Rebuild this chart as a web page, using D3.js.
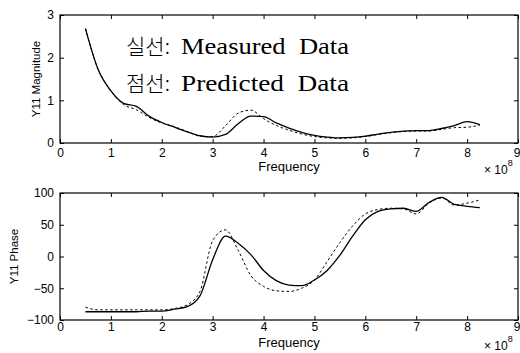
<!DOCTYPE html>
<html lang="en">
<head>
    <meta charset="utf-8">
    <title>Y11 Magnitude / Phase</title>
    <script src="https://cdnjs.cloudflare.com/ajax/libs/d3/7.8.5/d3.min.js"></script>
    <style>
        body { margin: 0; background: #fff; }
        svg { display: block; }
        .tick text { font-family: "Liberation Sans", Arial, sans-serif; font-size: 12px; fill: #000; }
        .tick line { stroke: #000; }
        .lbl { font-family: "Liberation Sans", Arial, sans-serif; font-size: 12px; fill: #000; }
        .legend { font-family: "Liberation Serif", "Noto Sans CJK KR", serif; font-size: 24px; fill: #000; }
    </style>
</head>
<body>
<div id="viz"></div>
<script>
    // frequency in units of 1e8 Hz
    var freq = [0.5, 0.75, 1.0, 1.25, 1.5, 1.75, 2.0, 2.25, 2.5, 2.75, 3.0, 3.25, 3.5, 3.75, 4.0, 4.25,
                4.5, 4.75, 5.0, 5.25, 5.5, 5.75, 6.0, 6.25, 6.5, 6.75, 7.0, 7.25, 7.5, 7.75, 8.0, 8.25];

    var magMeasured = [2.68, 1.72, 1.22, 0.93, 0.86, 0.63, 0.48, 0.37, 0.26, 0.17, 0.14, 0.2, 0.45, 0.63, 0.62, 0.47,
                       0.35, 0.25, 0.18, 0.14, 0.12, 0.13, 0.16, 0.21, 0.25, 0.28, 0.29, 0.29, 0.34, 0.41, 0.5, 0.43];
    var magPredicted = [2.68, 1.72, 1.22, 0.9, 0.78, 0.6, 0.47, 0.38, 0.27, 0.16, 0.15, 0.4, 0.7, 0.77, 0.57, 0.41,
                        0.3, 0.21, 0.15, 0.12, 0.11, 0.12, 0.15, 0.2, 0.24, 0.27, 0.28, 0.28, 0.32, 0.36, 0.37, 0.42];

    var phaseMeasured = [-87, -87, -87, -87, -87, -86, -86, -83, -79, -62, -5, 32, 21, 3, -22, -38,
                         -45, -46, -37, -22, 2, 32, 58, 71, 75, 76, 71, 85, 93, 82, 79, 77];
    var phasePredicted = [-80, -84, -84, -84, -84, -84, -84, -82, -76, -55, 25, 42, 10, -30, -47, -54,
                          -55, -50, -37, -8, 22, 48, 67, 74, 76, 75, 67, 84, 92, 81, 84, 89];

    var xTicks = [0, 1, 2, 3, 4, 5, 6, 7, 8, 9];
    var magTicks = [0, 1, 2, 3];
    var phaseTicks = [-100, -50, 0, 50, 100];

    var legendLines = [["실선:", "Measured  Data"], ["점선:", "Predicted  Data"]];

    var svg = d3.select("#viz").append("svg")
        .attr("width", 520)
        .attr("height", 353);

    var x = d3.scaleLinear().domain([0, 9]).range([60, 518]);

    function drawPanel(cfg) {
        var y = d3.scaleLinear().domain(cfg.domain).range([cfg.bottom, cfg.top]);
        var g = svg.append("g");

        g.append("g")
            .attr("transform", "translate(0," + cfg.bottom + ")")
            .call(d3.axisBottom(x).tickValues(xTicks).tickSize(-4).tickSizeOuter(0).tickPadding(cfg.xPad).tickFormat(d3.format("d")))
            .call(a => a.select(".domain").remove())
            .call(a => a.selectAll(".tick text").filter(d => d === 9).attr("text-anchor", "end").attr("x", 2));
        g.append("g")
            .attr("transform", "translate(0," + cfg.top + ")")
            .call(d3.axisTop(x).tickValues(xTicks).tickSize(-4).tickSizeOuter(0).tickFormat(""))
            .call(a => a.select(".domain").remove());
        g.append("g")
            .attr("transform", "translate(60,0)")
            .call(d3.axisLeft(y).tickValues(cfg.ticks).tickSize(-4).tickSizeOuter(0).tickPadding(6).tickFormat(d3.format("d")))
            .call(a => a.select(".domain").remove());
        g.append("g")
            .attr("transform", "translate(518,0)")
            .call(d3.axisRight(y).tickValues(cfg.ticks).tickSize(-4).tickSizeOuter(0).tickFormat(""))
            .call(a => a.select(".domain").remove());

        g.append("rect")
            .attr("x", 60)
            .attr("y", cfg.top)
            .attr("width", 458)
            .attr("height", cfg.bottom - cfg.top)
            .style("fill", "none")
            .style("stroke", "#000")
            .style("stroke-width", 1.2);

        var line = d3.line()
            .x((d, i) => x(freq[i]))
            .y(d => y(d))
            .curve(d3.curveMonotoneX);

        g.append("path")
            .datum(cfg.predicted)
            .attr("d", line)
            .style("fill", "none")
            .style("stroke", "#000")
            .style("stroke-width", 1)
            .style("stroke-dasharray", "2.5,2.5");

        g.append("path")
            .datum(cfg.measured)
            .attr("d", line)
            .style("fill", "none")
            .style("stroke", "#000")
            .style("stroke-width", 1.3);

        g.append("text")
            .attr("class", "lbl")
            .attr("x", 289)
            .attr("y", cfg.freqY)
            .style("text-anchor", "middle")
            .style("font-size", "13px")
            .text("Frequency");

        var ex = g.append("text")
            .attr("class", "lbl")
            .attr("x", 484)
            .attr("y", cfg.freqY + 3);
        ex.append("tspan").text("\u00d7 10");
        ex.append("tspan")
            .attr("dy", -8)
            .style("font-size", "9px")
            .text("8");

        g.append("text")
            .attr("class", "lbl")
            .attr("transform", "translate(" + cfg.labelX + "," + (cfg.top + cfg.bottom) / 2 + ") rotate(-90)")
            .attr("dy", "0.35em")
            .style("text-anchor", "middle")
            .style("font-size", "11.5px")
            .text(cfg.label);
    }

    drawPanel({
        top: 15, bottom: 143, domain: [0, 3], ticks: magTicks,
        measured: magMeasured, predicted: magPredicted,
        label: "Y11 Magnitude", labelX: 36, xPad: 5, freqY: 171
    });

    drawPanel({
        top: 193, bottom: 320, domain: [-100, 100], ticks: phaseTicks,
        measured: phaseMeasured, predicted: phasePredicted,
        label: "Y11 Phase", labelX: 14, xPad: 2, freqY: 347
    });

    var leg = svg.append("g");
    legendLines.forEach((l, i) => {
        var t = leg.append("text")
            .attr("class", "legend")
            .attr("y", 54 + i * 37);
        t.append("tspan")
            .attr("x", 126)
            .style("font-family", "'Noto Sans CJK KR', sans-serif")
            .style("font-size", "21px")
            .style("font-weight", 300)
            .text(l[0]);
        t.append("tspan")
            .attr("x", 181)
            .attr("textLength", 168)
            .attr("lengthAdjust", "spacingAndGlyphs")
            .style("white-space", "pre")
            .text(l[1]);
    });
</script>
</body>
</html>
